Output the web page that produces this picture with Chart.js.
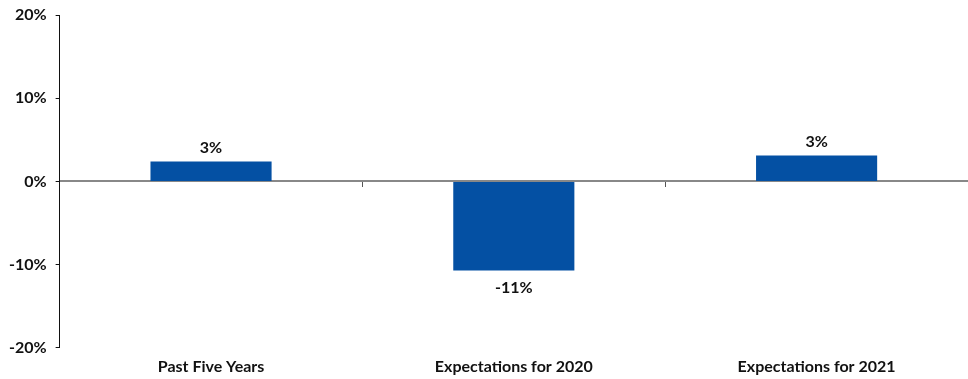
<!DOCTYPE html>
<html>
<head>
<meta charset="utf-8">
<script src="https://cdn.jsdelivr.net/npm/chart.js@4/dist/chart.umd.min.js"></script>
<style>
    html, body { margin: 0; padding: 0; background: #fff; }
    #wrap { width: 968px; height: 379px; position: relative; }
</style>
</head>
<body>
<div id="wrap"><canvas id="growthChart"></canvas></div>
<script>
const categories = ['Past Five Years', 'Expectations for 2020', 'Expectations for 2021'];
const growthValues = [2.4, -10.7, 3.1];
const growthLabels = ['3%', '-11%', '3%'];
const yTicks = { min: -20, max: 20, step: 10 };

const fontFamily = "Lato, 'Open Sans', sans-serif";

// value labels above positive bars and below negative ones
const valueLabels = {
    id: 'valueLabels',
    afterDatasetsDraw(chart) {
        const ctx = chart.ctx;
        const meta = chart.getDatasetMeta(0);
        ctx.save();
        ctx.font = `bold 16px ${fontFamily}`;
        ctx.fillStyle = '#111';
        ctx.textAlign = 'center';
        meta.data.forEach((bar, i) => {
            const v = growthValues[i];
            if (v >= 0) {
                ctx.textBaseline = 'bottom';
                ctx.fillText(growthLabels[i], bar.x, bar.y - 6);
            } else {
                ctx.textBaseline = 'top';
                ctx.fillText(growthLabels[i], bar.x, bar.y + 9);
            }
        });
        ctx.restore();
    }
};

const canvas = document.getElementById('growthChart');

new Chart(canvas, {
    type: 'bar',
    data: {
        labels: categories,
        datasets: [{
            data: growthValues,
            backgroundColor: '#0450A3',
            borderWidth: 0,
            categoryPercentage: 1,
            barPercentage: 0.4,
            xAxisID: 'x'
        }]
    },
    options: {
        responsive: true,
        maintainAspectRatio: false,
        animation: false,
        layout: { padding: { top: 0, right: 0, left: 0, bottom: 2 } },
        plugins: { legend: { display: false }, tooltip: { enabled: false } },
        scales: {
            x: {
                position: 'bottom',
                grid: { display: false },
                border: { display: false },
                ticks: {
                    color: '#111',
                    font: { family: fontFamily, size: 16, weight: 'bold' },
                    padding: 1,
                    maxRotation: 0
                }
            },
            xZero: {
                type: 'category',
                labels: categories,
                position: { y: 0 },
                offset: true,
                grid: {
                    offset: true,
                    drawOnChartArea: false,
                    drawTicks: true,
                    tickLength: 5,
                    color: '#555',
                    lineWidth: 1
                },
                border: { display: true, color: '#888', width: 2 },
                ticks: { display: false }
            },
            y: {
                min: yTicks.min,
                max: yTicks.max,
                ticks: {
                    stepSize: yTicks.step,
                    callback: v => v + '%',
                    color: '#111',
                    font: { family: fontFamily, size: 16, weight: 'bold', lineHeight: 0.75 },
                    padding: 9
                },
                grid: {
                    drawOnChartArea: false,
                    tickLength: 4,
                    color: '#111'
                },
                border: { color: '#111', width: 1 }
            }
        }
    },
    plugins: [valueLabels]
});
</script>
</body>
</html>
